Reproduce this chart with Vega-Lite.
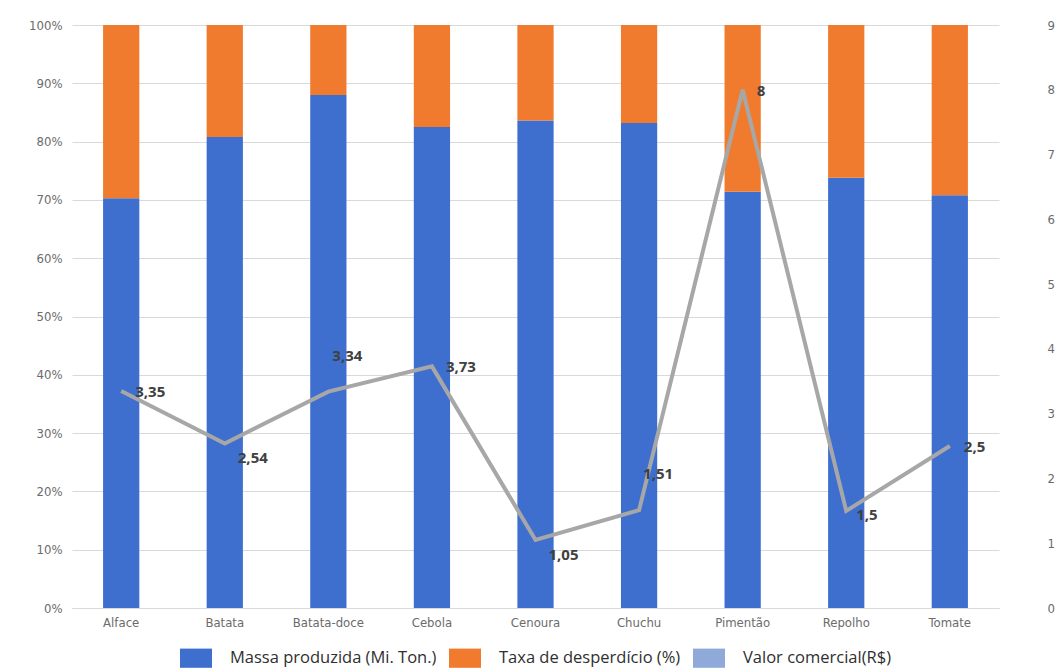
{
  "$schema": "https://vega.github.io/schema/vega-lite/v6.json",
  "autosize": {"type": "none"},
  "width": 955,
  "height": 583,
  "padding": {"left": 72, "top": 25, "right": 36, "bottom": 62},
  "background": "white",
  "config": {
    "view": {"stroke": null},
    "font": "DejaVu Sans Condensed",
    "axis": {"labelColor": "#6b6b6b", "labelFontSize": 12, "labelFont": "Liberation Sans Narrow, DejaVu Sans Condensed, sans-serif"}
  },
  "datasets": {
    "barras": [
      {"cat": "Alface", "serie": "Massa produzida (Mi. Ton.)", "pct": 70.3},
      {"cat": "Alface", "serie": "Taxa de desperdício (%)", "pct": 29.7},
      {"cat": "Batata", "serie": "Massa produzida (Mi. Ton.)", "pct": 80.8},
      {"cat": "Batata", "serie": "Taxa de desperdício (%)", "pct": 19.2},
      {"cat": "Batata-doce", "serie": "Massa produzida (Mi. Ton.)", "pct": 88.0},
      {"cat": "Batata-doce", "serie": "Taxa de desperdício (%)", "pct": 12.0},
      {"cat": "Cebola", "serie": "Massa produzida (Mi. Ton.)", "pct": 82.5},
      {"cat": "Cebola", "serie": "Taxa de desperdício (%)", "pct": 17.5},
      {"cat": "Cenoura", "serie": "Massa produzida (Mi. Ton.)", "pct": 83.6},
      {"cat": "Cenoura", "serie": "Taxa de desperdício (%)", "pct": 16.4},
      {"cat": "Chuchu", "serie": "Massa produzida (Mi. Ton.)", "pct": 83.2},
      {"cat": "Chuchu", "serie": "Taxa de desperdício (%)", "pct": 16.8},
      {"cat": "Pimentão", "serie": "Massa produzida (Mi. Ton.)", "pct": 71.4},
      {"cat": "Pimentão", "serie": "Taxa de desperdício (%)", "pct": 28.6},
      {"cat": "Repolho", "serie": "Massa produzida (Mi. Ton.)", "pct": 73.8},
      {"cat": "Repolho", "serie": "Taxa de desperdício (%)", "pct": 26.2},
      {"cat": "Tomate", "serie": "Massa produzida (Mi. Ton.)", "pct": 70.8},
      {"cat": "Tomate", "serie": "Taxa de desperdício (%)", "pct": 29.2}
    ],
    "linha": [
      {"cat": "Alface", "valor": 3.35, "rotulo": "3,35"},
      {"cat": "Batata", "valor": 2.54, "rotulo": "2,54"},
      {"cat": "Batata-doce", "valor": 3.34, "rotulo": "3,34"},
      {"cat": "Cebola", "valor": 3.73, "rotulo": "3,73"},
      {"cat": "Cenoura", "valor": 1.05, "rotulo": "1,05"},
      {"cat": "Chuchu", "valor": 1.51, "rotulo": "1,51"},
      {"cat": "Pimentão", "valor": 8, "rotulo": "8"},
      {"cat": "Repolho", "valor": 1.5, "rotulo": "1,5"},
      {"cat": "Tomate", "valor": 2.5, "rotulo": "2,5"}
    ]
  },
  "encoding": {
    "x": {
      "field": "cat", "type": "nominal", "sort": null, "title": null,
      "scale": {"range": [0, 927], "paddingInner": 0.65, "paddingOuter": 0.3},
      "axis": {"labelAngle": 0, "ticks": false, "domain": true, "domainColor": "#d9d9d9", "labelPadding": 8, "labelFontSize": 13}
    }
  },
  "layer": [
    {
      "data": {"name": "barras"},
      "mark": {"type": "bar"},
      "encoding": {
        "y": {
          "field": "pct", "type": "quantitative", "stack": "normalize", "title": null,
          "scale": {"domain": [0, 1]},
          "axis": {"format": ".0%", "values": [0, 0.1, 0.2, 0.3, 0.4, 0.5, 0.6, 0.7, 0.8, 0.9, 1], "grid": true, "gridColor": "#d9d9d9", "domain": false, "ticks": false, "labelPadding": 10, "labelFontSize": 13}
        },
        "color": {
          "field": "serie", "type": "nominal", "title": null,
          "scale": {
            "domain": ["Massa produzida (Mi. Ton.)", "Taxa de desperdício (%)", "Valor comercial(R$)"],
            "range": ["#3e6fcf", "#f07b2f", "#8fa9d9"]
          },
          "legend": {"orient": "none", "legendX": 108, "legendY": 617, "direction": "horizontal", "symbolType": "M-1,-0.6H1V0.6H-1Z", "symbolSize": 1024, "labelFontSize": 16.5, "labelColor": "#2f2f2f", "labelFont": "Open Sans", "labelLimit": 0, "labelOffset": 18, "columnPadding": 12, "symbolStrokeWidth": 0}
        },
        "order": {"field": "serie", "sort": "ascending"}
      }
    },
    {
      "data": {"name": "linha"},
      "encoding": {
        "y": {
          "field": "valor", "type": "quantitative", "title": null,
          "scale": {"domain": [0, 9]}
        }
      },
      "layer": [
        {
          "mark": {"type": "line", "color": "#a7a7a7", "strokeWidth": 4, "strokeJoin": "miter"},
          "encoding": {
            "y": {
              "field": "valor", "type": "quantitative", "title": null,
              "scale": {"domain": [0, 9]},
              "axis": {"orient": "right", "format": "d", "values": [0, 1, 2, 3, 4, 5, 6, 7, 8, 9], "grid": false, "domain": false, "ticks": false, "labelPadding": 20, "labelFontSize": 13}
            }
          }
        },
        {
          "transform": [{"filter": {"field": "cat", "oneOf": ["Alface", "Cebola", "Pimentão", "Tomate"]}}],
          "mark": {"type": "text", "align": "left", "baseline": "middle", "dx": 14, "dy": 1, "fontSize": 15, "fontWeight": "bold", "color": "#404040", "font": "Open Sans"},
          "encoding": {"text": {"field": "rotulo"}}
        },
        {
          "transform": [{"filter": {"field": "cat", "oneOf": ["Repolho"]}}],
          "mark": {"type": "text", "align": "left", "baseline": "middle", "dx": 10, "dy": 4, "fontSize": 15, "fontWeight": "bold", "color": "#404040", "font": "Open Sans"},
          "encoding": {"text": {"field": "rotulo"}}
        },
        {
          "transform": [{"filter": {"field": "cat", "oneOf": ["Batata", "Cenoura"]}}],
          "mark": {"type": "text", "align": "left", "baseline": "middle", "dx": 13, "dy": 15, "fontSize": 15, "fontWeight": "bold", "color": "#404040", "font": "Open Sans"},
          "encoding": {"text": {"field": "rotulo"}}
        },
        {
          "transform": [{"filter": {"field": "cat", "oneOf": ["Batata-doce", "Chuchu"]}}],
          "mark": {"type": "text", "align": "left", "baseline": "middle", "dx": 4, "dy": -36, "fontSize": 15, "fontWeight": "bold", "color": "#404040", "font": "Open Sans"},
          "encoding": {"text": {"field": "rotulo"}}
        }
      ]
    }
  ],
  "resolve": {"scale": {"y": "independent"}}
}
